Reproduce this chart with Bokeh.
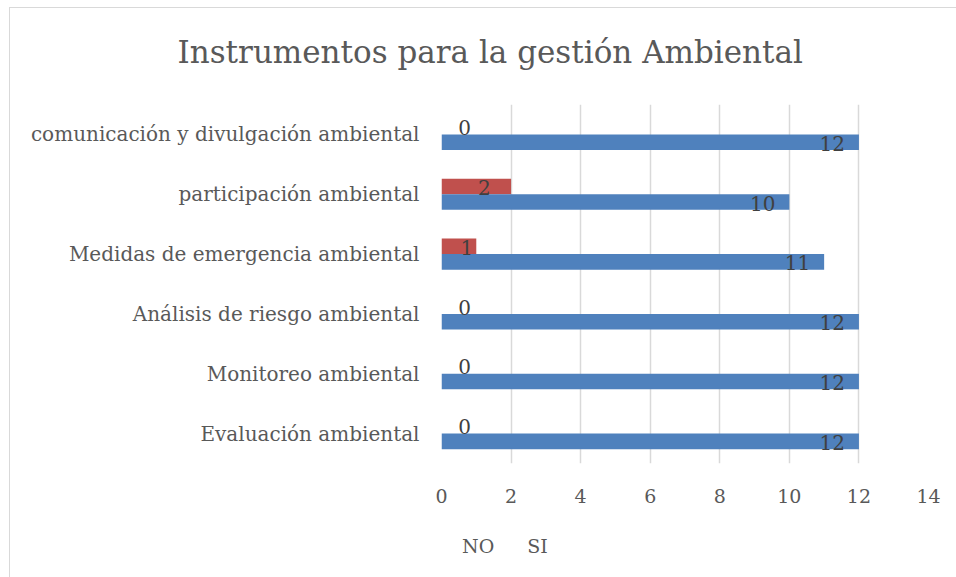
from bokeh.plotting import figure
from bokeh.layouts import column
from bokeh.models import FactorRange, Range1d, Title, Legend, LegendItem, ColumnDataSource
from bokeh.transform import dodge
from bokeh.core.properties import value
from bokeh.embed import file_html
from bokeh.resources import INLINE

# ---- data (bottom to top) ----
categories = [
    "Evaluación ambiental",
    "Monitoreo ambiental",
    "Análisis de riesgo ambiental",
    "Medidas de emergencia ambiental",
    "participación ambiental",
    "comunicación y divulgación ambiental",
]
no_vals = [0, 0, 0, 1, 2, 0]
si_vals = [12, 12, 12, 11, 10, 12]
x_ticks = [0, 2, 4, 6, 8, 10, 12, 14]
title_text = "Instrumentos para la gestión Ambiental"
series_names = ["NO", "SI"]

FONT = "DejaVu Serif"
RED = "#C0504D"
BLUE = "#4F81BD"
GRID = "#D9D9D9"
TXT = "#595959"
LBL = "#404040"

src = ColumnDataSource(dict(
    cat=categories,
    no=no_vals,
    si=si_vals,
    no_txt=[str(v) for v in no_vals],
    si_txt=[str(v) for v in si_vals],
    no_lx=[v / 2 for v in no_vals],
    no_off=[23 if v == 0 else 8 for v in no_vals],
))

p = figure(
    frame_width=487, frame_height=359,
    min_border_left=441, min_border_right=28,
    min_border_top=104, min_border_bottom=70,
    y_range=FactorRange(factors=categories, range_padding=0),
    x_range=Range1d(0, 14),
    output_backend="svg", toolbar_location=None,
)
p.outline_line_color = None
p.background_fill_color = "white"
p.border_fill_color = None

bar_h = 0.26
r_no = p.hbar(y=dodge("cat", 0.13, range=p.y_range), left=0, right="no", height=bar_h,
              fill_color=RED, line_color=None, source=src)
r_si = p.hbar(y=dodge("cat", -0.13, range=p.y_range), left=0, right="si", height=bar_h,
              fill_color=BLUE, line_color=None, source=src)

p.text(x="si", y=dodge("cat", -0.13, range=p.y_range), text="si_txt", source=src,
       text_align="right", text_baseline="middle", x_offset=-14, y_offset=1,
       text_font=value(FONT), text_font_size="20px", text_color=LBL)
p.text(x="no_lx", y=dodge("cat", 0.13, range=p.y_range), text="no_txt", source=src,
       text_align="center", text_baseline="middle", x_offset="no_off", y_offset=1,
       text_font=value(FONT), text_font_size="20px", text_color=LBL)

# axes
p.xaxis.ticker = x_ticks
p.xaxis.axis_line_color = None
p.xaxis.major_tick_line_color = None
p.xaxis.minor_tick_line_color = None
p.xaxis.major_label_text_font = FONT
p.xaxis.major_label_text_font_size = "19px"
p.xaxis.major_label_text_color = TXT
p.xaxis.major_label_standoff = 19

p.yaxis.axis_line_color = None
p.yaxis.major_tick_line_color = None
p.yaxis.minor_tick_line_color = None
p.yaxis.major_label_text_font = FONT
p.yaxis.major_label_text_font_size = "20px"
p.yaxis.major_label_text_color = TXT
p.yaxis.major_label_standoff = 16

p.xgrid.grid_line_color = GRID
p.xgrid.grid_line_width = 1.5
p.ygrid.grid_line_color = None

# title, shifted so that it is centred on the whole chart
p.title = Title(text=title_text, align="left", offset=-264, standoff=66,
                vertical_align="top", text_baseline="middle",
                text_font=FONT, text_font_size="31px", text_font_style="normal",
                text_color=TXT)

# ---- legend strip below the chart (its frame is aligned with the main frame) ----
p2 = figure(width=956, height=44, x_range=Range1d(0, 1), y_range=Range1d(0, 1),
            x_axis_type=None, y_axis_type=None, min_border=0,
            output_backend="svg", toolbar_location=None)
p2.outline_line_color = None
p2.background_fill_color = None
p2.border_fill_color = None
leg_src = ColumnDataSource(dict(y=[], right=[]))
k_no = p2.hbar(y="y", left=0, right="right", height=0.5, fill_color=RED, line_color=None,
               source=leg_src)
k_si = p2.hbar(y="y", left=0, right="right", height=0.5, fill_color=BLUE, line_color=None,
               source=leg_src)

legend = Legend(items=[LegendItem(label=series_names[0], renderers=[k_no]),
                       LegendItem(label=series_names[1], renderers=[k_si])],
                orientation="horizontal", location=(2, 20),
                label_text_font=FONT, label_text_font_size="19px", label_text_color=TXT,
                glyph_width=13, glyph_height=13, label_height=20, label_standoff=6,
                spacing=14, padding=0, margin=0, border_line_color=None,
                background_fill_alpha=0)
p2.add_layout(legend)

layout = column(p, p2, spacing=0)
# thin chart-area border drawn behind the transparent canvases
layout.styles = {
    "background-color": "white",
    "background-image": "linear-gradient(#D9D9D9,#D9D9D9), linear-gradient(#D9D9D9,#D9D9D9)",
    "background-size": "1px 100%, 100% 1px",
    "background-position": "9px 7px, 9px 7px",
    "background-repeat": "no-repeat",
}

open("out.html", "w").write(file_html(layout, INLINE))
